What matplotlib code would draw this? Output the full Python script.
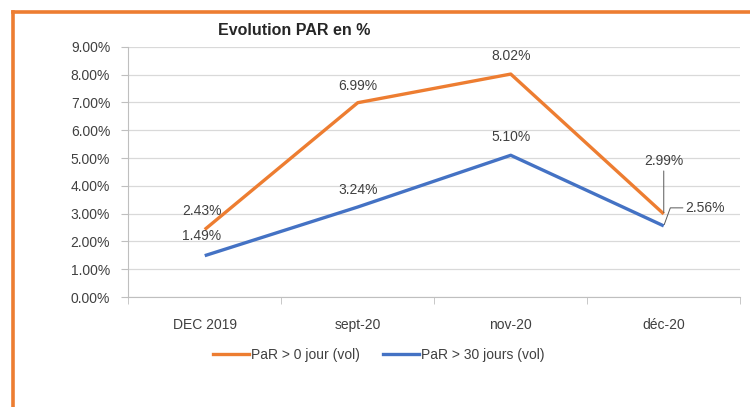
import matplotlib.pyplot as plt
from matplotlib.lines import Line2D

plt.rcParams['font.family'] = ['Liberation Sans', 'DejaVu Sans']

# Data
categories = ['DEC 2019', 'sept-20', 'nov-20', 'déc-20']
par_0 = [2.43, 6.99, 8.02, 2.99]
par_30 = [1.49, 3.24, 5.10, 2.56]
series_names = ['PaR > 0 jour (vol)', 'PaR > 30 jours (vol)']

orange = '#ED7D31'
blue = '#4472C4'
txt = '#404040'

fig = plt.figure(figsize=(7.5, 4.07), dpi=100)
ax = fig.add_axes([0.171, 0.270, 0.816, 0.615])

x = list(range(len(categories)))
ax.plot(x, par_0, color=orange, lw=2.4, solid_capstyle='butt')
ax.plot(x, par_30, color=blue, lw=2.4, solid_capstyle='butt')

ax.set_xlim(-0.5, 3.5)
ax.set_ylim(0, 9)
ax.set_yticks([i for i in range(10)])
ax.set_yticklabels([f'{i:.2f}%' for i in range(10)], fontsize=10, color=txt)
ax.set_xticks(x)
ax.set_xticklabels(categories, fontsize=10, color=txt)
ax.tick_params(axis='x', length=0, pad=15)
ax.set_xticks([-0.5, 0.5, 1.5, 2.5, 3.5], minor=True)
ax.tick_params(axis='x', which='minor', length=5, color='#bfbfbf')
ax.tick_params(axis='y', length=5, color='#bfbfbf', pad=8)
ax.grid(axis='y', color='#d9d9d9', lw=0.9)
ax.set_axisbelow(True)
for s in ['top', 'right']:
    ax.spines[s].set_visible(False)
ax.spines['left'].set_color('#bfbfbf')
ax.spines['bottom'].set_color('#bfbfbf')

lab = dict(fontsize=10, color=txt, ha='center', va='center', textcoords='offset points')
# data labels
ax.annotate(f'{par_0[0]:.2f}%', (x[0], par_0[0]), xytext=(-2, 13), **lab)
ax.annotate(f'{par_30[0]:.2f}%', (x[0], par_30[0]), xytext=(-2, 14), **lab)
ax.annotate(f'{par_0[1]:.2f}%', (x[1], par_0[1]), xytext=(0, 12), **lab)
ax.annotate(f'{par_30[1]:.2f}%', (x[1], par_30[1]), xytext=(0, 12), **lab)
ax.annotate(f'{par_0[2]:.2f}%', (x[2], par_0[2]), xytext=(0, 13), **lab)
ax.annotate(f'{par_30[2]:.2f}%', (x[2], par_30[2]), xytext=(0, 13), **lab)
ax.annotate(f'{par_0[3]:.2f}%', (x[3], par_0[3]), xytext=(0, 38),
            arrowprops=dict(arrowstyle='-', color='#595959', lw=0.7, shrinkA=0, shrinkB=1,
                            relpos=(0.5, 0.0)), **lab)
ax.annotate(f'{par_30[3]:.2f}%', (x[3], par_30[3]), xytext=(30, 13),
            arrowprops=dict(arrowstyle='-', color='#595959', lw=0.7, shrinkA=0, shrinkB=1,
                            relpos=(0.0, 0.5),
                            connectionstyle='angle,angleA=0,angleB=70,rad=0'), **lab)

fig.text(0.392, 0.925, 'Evolution PAR en %', fontsize=11.5, fontweight='bold', ha='center',
         va='center', color='#262626')

handles = [Line2D([], [], color=orange, lw=2.4), Line2D([], [], color=blue, lw=2.4)]
fig.legend(handles, series_names, loc='center', bbox_to_anchor=(0.505, 0.128), ncol=2,
           frameon=False, fontsize=10, handlelength=2.6, handletextpad=0.15, columnspacing=1.6,
           labelcolor=txt)

# orange frame on left and top
fig.add_artist(Line2D([0.018, 0.018], [0, 0.971], color=orange, lw=2.6, transform=fig.transFigure))
fig.add_artist(Line2D([0.018, 1.0], [0.971, 0.971], color=orange, lw=2.6, transform=fig.transFigure))

fig.savefig('out.png', dpi=100)
